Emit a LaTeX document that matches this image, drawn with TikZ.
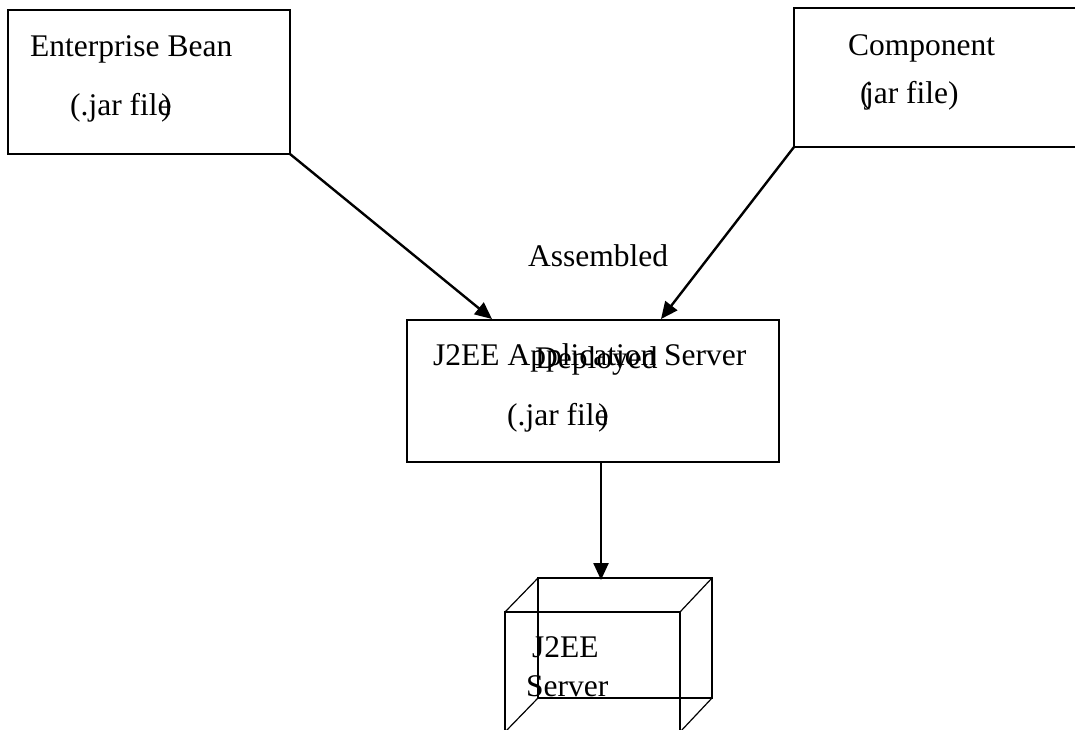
\documentclass[tikz,border=0pt]{standalone}
\usepackage{fontspec}
\setmainfont{Liberation Serif}
\usetikzlibrary{arrows.meta,calc}
\begin{document}
\begin{tikzpicture}[x=1pt,y=-1pt,
  box/.style={draw,line width=2pt,inner sep=0pt,outer sep=0pt,anchor=north west},
  lbl/.style={inner sep=0pt,anchor=base west,font=\fontsize{31.5}{36}\selectfont},
  arr/.style={line width=2.4pt,-{Triangle[length=17pt,width=15pt]}},
  thinedge/.style={line width=1.2pt},
  frontedge/.style={line width=2.2pt}]
\useasboundingbox (0,0) rectangle (1075,729);
\clip (0,0) rectangle (1075,729);
% boxes
\node[box,minimum width=282pt,minimum height=144pt] (bean) at (8,10) {};
\node[box,minimum width=320pt,minimum height=139pt] (comp) at (794,8) {};
\node[box,minimum width=372pt,minimum height=142pt] (app) at (407,320) {};
% texts
\node[lbl] (t1) at (30,56) {Enterprise Bean};
\node[lbl] (t2) at (70,115) {(.jar file\llap{)}};
\node[lbl] (t3) at (848,55) {Component};
\node[lbl] (t4) at (860,103) {(\kern-.18em jar file)};
\node[lbl] (asm) at (528,266) {Assembled};
\node[lbl] (t5) at (433,365) {J2EE Application Server};
\node[lbl] (dep) at (535,368) {Deployed};
\node[lbl] (t6) at (507,425) {(.jar file\llap{)}};
% cube
\coordinate (btl) at (538,578);
\coordinate (btr) at (712,578);
\coordinate (bbl) at (538,698);
\coordinate (bbr) at (712,698);
\coordinate (ftl) at (505,612);
\coordinate (ftr) at (680,612);
\coordinate (fbl) at (505,732);
\coordinate (fbr) at (680,732);
\coordinate (ctop) at (601,580);
\draw[thinedge] (btl) -- (btr) -- (bbr) -- (bbl) -- cycle;
\draw[thinedge] (ftl) -- (btl) (ftr) -- (btr) (fbl) -- (bbl) (fbr) -- (bbr);
\draw[frontedge] (fbl) -- (ftl) -- (ftr) -- (fbr);
\node[lbl] (c1) at (532,657) {J2EE};
\node[lbl] (c2) at (526,696) {Server};
% connectors
\draw[arr] (bean.south east) -- ($(app.north west)+(85,-1)$);
\draw[arr] (comp.south west) -- ($(app.north west)+(254,-1)$);
\draw[arr] (ctop |- app.south) -- (ctop);
\end{tikzpicture}
\end{document}
